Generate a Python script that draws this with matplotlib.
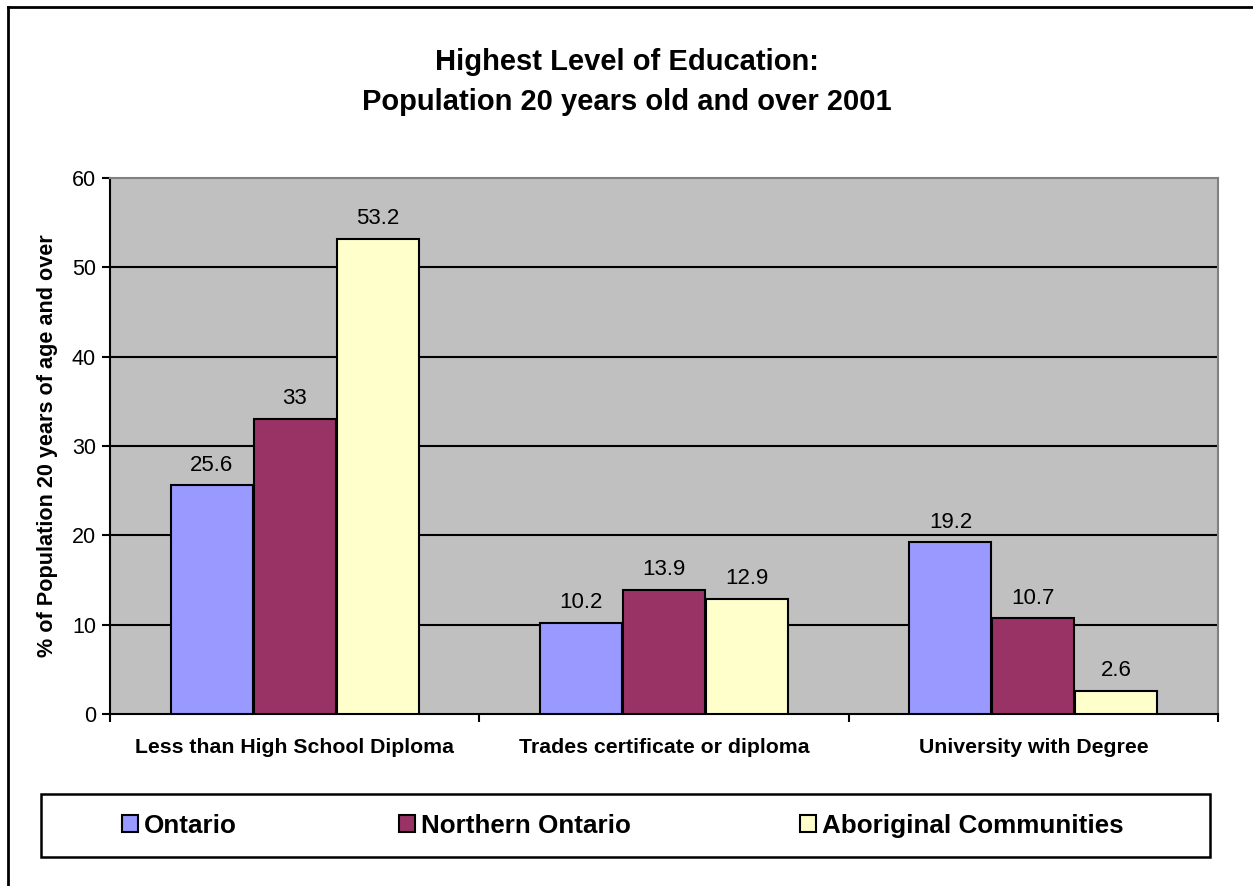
import matplotlib
matplotlib.use("Agg")
import matplotlib.pyplot as plt
import numpy as np
from matplotlib.patches import Rectangle, Patch
from matplotlib.lines import Line2D

categories = ["Less than High School Diploma", "Trades certificate or diploma", "University with Degree"]
series_names = ["Ontario", "Northern Ontario", "Aboriginal Communities"]
ontario = [25.6, 10.2, 19.2]
northern = [33, 13.9, 10.7]
aboriginal = [53.2, 12.9, 2.6]
value_labels = [["25.6", "10.2", "19.2"], ["33", "13.9", "10.7"], ["53.2", "12.9", "2.6"]]
yticks = [0, 10, 20, 30, 40, 50, 60]
colors = ["#9999FF", "#993366", "#FFFFCC"]

plt.rcParams['font.family'] = ['Liberation Sans', 'DejaVu Sans']

W, H = 1253, 886
fig = plt.figure(figsize=(W / 100, H / 100), dpi=100)
fig.patch.set_facecolor("white")

ax = fig.add_axes([110 / W, 1 - 714 / H, (1218 - 110) / W, (714 - 178) / H])
ax.set_facecolor("#C0C0C0")

x = np.arange(len(categories))
bw = 0.222
series = [ontario, northern, aboriginal]
for i, (vals, col) in enumerate(zip(series, colors)):
    pos = x + (i - 1) * 0.2245
    ax.bar(pos, vals, width=bw, color=col, edgecolor="black", linewidth=1.5, zorder=3)
    for p, v, lab in zip(pos, vals, value_labels[i]):
        ax.annotate(lab, (p, v), xytext=(0, 7), textcoords="offset points",
                    ha="center", va="bottom", fontsize=16)

ax.set_xlim(-0.5, 2.5)
ax.set_ylim(0, 60)
ax.set_yticks(yticks)
ax.set_yticklabels([str(t) for t in yticks], fontsize=15.5)
for t in yticks[1:-1]:
    ax.axhline(t, color="black", linewidth=1.5, zorder=1)

ax.set_xticks([-0.5, 0.5, 1.5, 2.5], minor=False)
ax.set_xticklabels([])
ax.set_xticks(x, minor=True)
ax.set_xticklabels(categories, minor=True, fontsize=15.3, fontweight="bold")
ax.tick_params(axis="x", which="minor", length=0, pad=17)
ax.tick_params(axis="x", which="major", length=6, width=1.5, direction="out")
ax.tick_params(axis="y", length=6, width=1.5, direction="out", pad=4)

ax.spines["left"].set_linewidth(1.5)
ax.spines["bottom"].set_linewidth(1.5)
ax.spines["top"].set_color("#808080")
ax.spines["right"].set_color("#808080")
ax.spines["top"].set_linewidth(1.5)
ax.spines["right"].set_linewidth(1.5)

ax.set_ylabel("% of Population 20 years of age and over", fontsize=15.6, fontweight="bold", labelpad=10)

fig.text(0.5, 1 - 62 / H, "Highest Level of Education:", ha="center", va="center",
         fontsize=21, fontweight="bold")
fig.text(0.5, 1 - 102 / H, "Population 20 years old and over 2001", ha="center", va="center",
         fontsize=21, fontweight="bold")

# legend box
fig.patches.append(Rectangle((41 / W, 1 - 857 / H), (1210 - 41) / W, (857 - 794) / H,
                             transform=fig.transFigure, fill=False, edgecolor="black", linewidth=1.8))
legend_x = [122, 399, 800]
for name, col, lx in zip(series_names, colors, legend_x):
    h = Patch(facecolor=col, edgecolor="black", linewidth=1.5)
    fig.legend([h], [name], loc="center left", bbox_to_anchor=(lx / W, 1 - 826 / H),
               frameon=False, prop={"weight": "bold", "size": 18.7},
               handlelength=0.62, handleheight=0.62, handletextpad=0.22, borderpad=0, borderaxespad=0)

# outer border
fig.add_artist(Line2D([8 / W, 1], [1 - 7 / H, 1 - 7 / H], transform=fig.transFigure, color="black", linewidth=2))
fig.add_artist(Line2D([8 / W, 8 / W], [0, 1 - 7 / H], transform=fig.transFigure, color="black", linewidth=2))

fig.savefig("out.png", dpi=100)
